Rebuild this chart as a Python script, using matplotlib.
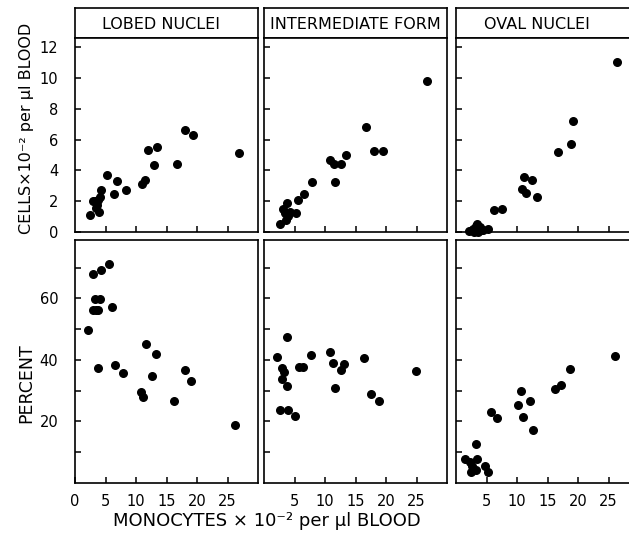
import matplotlib
matplotlib.use("Agg")
import matplotlib.pyplot as plt

# monocyte counts (x) and the three nucleus types
panel_titles = ["LOBED NUCLEI", "INTERMEDIATE FORM", "OVAL NUCLEI"]

lobed_cells_x = [2.5, 2.9, 4.3, 4.1, 3.9, 3.3, 3.6, 3.4, 3.8, 5.2, 6.4, 6.9, 8.4,
                 11.0, 11.4, 11.9, 13.0, 13.5, 16.8, 18.1, 19.4, 26.9]
lobed_cells_y = [1.1, 2.0, 2.7, 2.3, 1.3, 2.0, 1.75, 1.55, 2.1, 3.7, 2.5, 3.3, 2.7,
                 3.1, 3.4, 5.3, 4.35, 5.5, 4.4, 6.6, 6.3, 5.1]

inter_cells_x = [26.7, 16.8, 18.1, 19.5, 10.9, 11.5, 12.7, 13.4, 11.6, 7.9, 6.6, 5.6,
                 5.2, 3.8, 3.1, 3.4, 4.0, 3.6, 2.6, 4.3]
inter_cells_y = [9.8, 6.8, 5.26, 5.26, 4.7, 4.4, 4.4, 5.0, 3.27, 3.27, 2.45, 2.1,
                 1.25, 1.86, 1.47, 1.21, 1.04, 0.78, 0.5, 1.3]

oval_cells_x = [26.4, 19.2, 18.9, 16.7, 11.2, 12.5, 10.8, 11.5, 13.2, 6.2, 7.6,
                2.2, 2.8, 3.2, 3.5, 3.9, 4.1, 3.0, 4.5, 5.2, 3.6]
oval_cells_y = [11.06, 7.2, 5.7, 5.17, 3.6, 3.4, 2.8, 2.55, 2.3, 1.4, 1.5,
                0.05, 0.2, 0.4, 0.55, 0.3, 0.1, 0.0, 0.15, 0.2, 0.0]

lobed_pct_x = [5.5, 3.0, 4.2, 3.3, 4.1, 3.0, 3.4, 3.8, 6.0, 2.1, 3.8, 6.6, 7.8,
               11.7, 13.3, 12.7, 10.9, 11.2, 16.2, 18.1, 19.0, 26.2]
lobed_pct_y = [71.3, 68.1, 69.2, 59.9, 59.7, 56.1, 56.1, 56.1, 57.2, 49.8, 37.4,
               38.2, 35.7, 45.1, 42.0, 34.7, 29.5, 28.1, 26.8, 36.8, 33.3, 19.0]

inter_pct_x = [3.8, 2.1, 2.9, 3.3, 3.0, 3.8, 2.6, 3.9, 5.0, 5.8, 6.4, 7.7, 10.8,
               11.3, 13.1, 12.6, 11.6, 16.4, 17.5, 18.9, 24.9]
inter_pct_y = [47.4, 40.9, 37.5, 36.0, 33.9, 31.5, 23.6, 23.8, 21.9, 37.6, 37.6,
               41.7, 42.6, 39.1, 38.8, 36.6, 30.8, 40.7, 29.0, 26.6, 36.4]

oval_pct_x = [26.0, 18.7, 17.2, 16.2, 10.7, 10.2, 12.1, 11.0, 12.7, 5.7, 6.7, 3.2,
              1.5, 2.3, 3.4, 2.7, 2.4, 3.3, 4.75, 5.2]
oval_pct_y = [41.3, 37.1, 31.7, 30.4, 29.9, 25.5, 26.6, 21.6, 17.2, 23.0, 21.1, 12.7,
              7.8, 6.7, 7.8, 5.4, 3.7, 4.3, 5.4, 3.5]

cells_x = [lobed_cells_x, inter_cells_x, oval_cells_x]
cells_y = [lobed_cells_y, inter_cells_y, oval_cells_y]
pct_x = [lobed_pct_x, inter_pct_x, oval_pct_x]
pct_y = [lobed_pct_y, inter_pct_y, oval_pct_y]

W, H = 629, 550
fig = plt.figure(figsize=(W / 100, H / 100), dpi=100)
plt.rcParams['font.family'] = ['DejaVu Sans']


def px_axes(x0, y0, x1, y1):
    return fig.add_axes([x0 / W, 1 - y1 / H, (x1 - x0) / W, (y1 - y0) / H])


def style(ax):
    for s in ax.spines.values():
        s.set_linewidth(1.2)
    ax.tick_params(direction='in', length=4, width=1.1, labelsize=10.5,
                   top=False, right=False)


lefts = [75, 264, 456]
pw = 183
title_pos = [0.47, 0.5, 0.44]

for i in range(3):
    x0 = lefts[i]
    # header box
    hd = px_axes(x0, 8, x0 + pw, 38)
    hd.set_xticks([])
    hd.set_yticks([])
    for s in hd.spines.values():
        s.set_linewidth(1.2)
    hd.text(title_pos[i], 0.45, panel_titles[i], ha='center', va='center',
            fontsize=11.5, transform=hd.transAxes)

    # cells panel
    ax = px_axes(x0, 38, x0 + pw, 232)
    style(ax)
    ax.scatter(cells_x[i], cells_y[i], s=30, color='black', clip_on=False, zorder=3)
    ax.set_xlim(0, 30)
    ax.set_ylim(0, 12.6)
    ax.set_xticks([5, 10, 15, 20, 25])
    ax.set_xticklabels([])
    ax.set_yticks([0, 2, 4, 6, 8, 10, 12])
    if i == 0:
        ax.tick_params(axis='y', pad=12)
    else:
        ax.set_yticklabels([])

    # percent panel
    bx = px_axes(x0, 240, x0 + pw, 483)
    style(bx)
    bx.scatter(pct_x[i], pct_y[i], s=30, color='black', clip_on=False, zorder=3)
    bx.set_xlim(0, 30)
    bx.set_ylim(0, 79)
    bx.set_yticks([10, 20, 30, 40, 50, 60, 70])
    if i == 0:
        bx.set_xticks([0, 5, 10, 15, 20, 25])
        bx.set_yticklabels(['', '20', '', '40', '', '60', ''])
        bx.tick_params(axis='y', pad=12)
    else:
        bx.set_xticks([5, 10, 15, 20, 25])
        bx.set_yticklabels([])
    bx.tick_params(axis='x', pad=8)

fig.text(27 / W, 1 - 128 / H, "CELLS×10⁻² per µl BLOOD", rotation=90,
         ha='center', va='center', fontsize=11.5)
fig.text(26 / W, 1 - 383 / H, "PERCENT", rotation=90,
         ha='center', va='center', fontsize=12.5)
fig.text(267 / W, 1 - 521 / H, "MONOCYTES × 10⁻² per µl BLOOD", ha='center',
         va='center', fontsize=13)

fig.savefig("out.png", dpi=100)
